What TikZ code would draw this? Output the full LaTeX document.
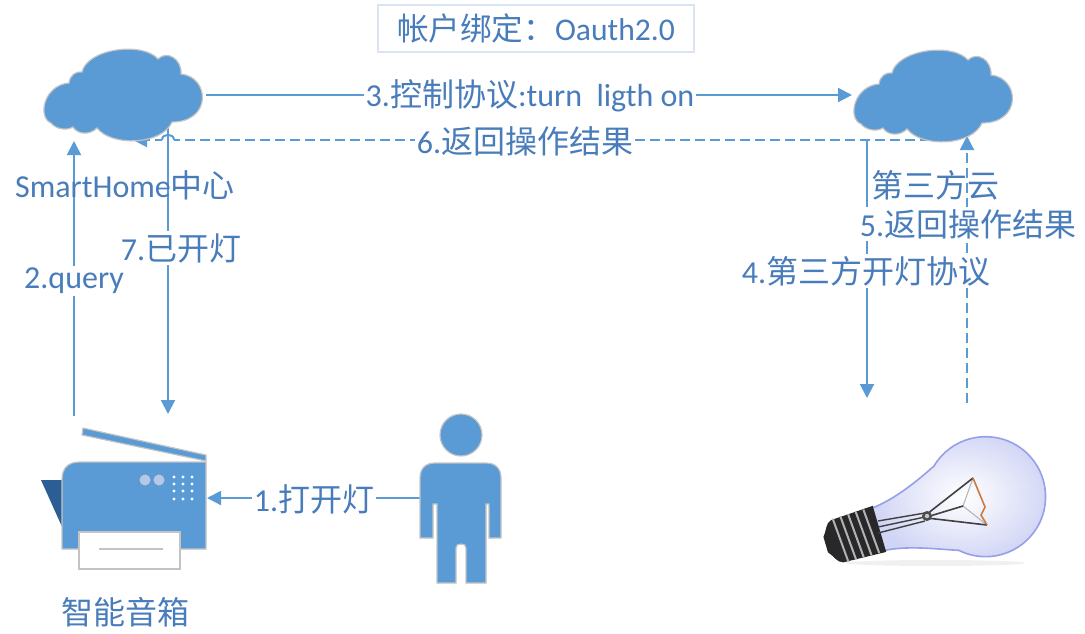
\documentclass[tikz,border=0pt]{standalone}
\usepackage{fontspec}
\setmainfont{Carlito}
\newfontfamily\cjkfont{Noto Sans CJK SC}
\newcommand\zh[1]{{\cjkfont #1}}
\usetikzlibrary{arrows.meta}

\definecolor{iconblue}{RGB}{91,155,213}
\definecolor{txtblue}{RGB}{72,124,186}
\definecolor{darkblue}{RGB}{44,94,150}
\definecolor{btnblue}{RGB}{182,200,230}
\definecolor{boxline}{RGB}{218,228,242}
\definecolor{rim}{RGB}{196,196,196}
\definecolor{glassedge}{RGB}{150,160,232}
\definecolor{basecol}{RGB}{40,40,42}
\definecolor{wirecol}{RGB}{205,120,60}

\tikzset{
  link/.style={draw=iconblue, line width=1pt, -{Triangle[length=7pt,width=7pt]}},
  dlink/.style={link, dash pattern=on 5pt off 2.5pt},
  lbl/.style={text=txtblue, font=\fontsize{16}{19}\selectfont, inner sep=1pt},
  lblw/.style={lbl, fill=white},
  iconfill/.style={fill=iconblue, draw=rim, line width=0.6pt},
  cloudpic/.pic={
    \path[iconfill] (9,76) .. controls (-5,70) and (2,38) .. (27,36)
      .. controls (28,28) and (34,24) .. (40,25)
      .. controls (45,2) and (100,-6) .. (116,12)
      .. controls (125,3) and (140,12) .. (139,27)
      .. controls (168,30) and (170,75) .. (130,75)
      .. controls (120,98) and (70,100) .. (55,81)
      .. controls (48,88) and (36,88) .. (31,80)
      .. controls (24,84) and (14,82) .. (9,76) -- cycle;
  }
}

\begin{document}
\begin{tikzpicture}[x=0.5pt,y=-0.5pt]
\useasboundingbox (0,0) rectangle (1085,633);

% connector end points
\coordinate (hubE) at (206,95);
\coordinate (thirdW) at (852,95);
\coordinate (retStart) at (930,140);
\coordinate (retEnd) at (133,140);
\coordinate (queryStart) at (74,416);
\coordinate (queryEnd) at (74,141);
\coordinate (doneStart) at (168,118);
\coordinate (doneEnd) at (168,414);
\coordinate (cmdStart) at (867,140);
\coordinate (cmdEnd) at (867,398);
\coordinate (resStart) at (967,403);
\coordinate (resEnd) at (967,136);
\coordinate (userW) at (420,498);
\coordinate (speakerE) at (207,498);

% connectors
\draw[link] (hubE) -- (thirdW);
\draw[dlink] (retStart) -- (retEnd);
% line hop where the dashed return crosses the vertical line
\fill[white] (162,137) rectangle (174,143);
\draw[iconblue, line width=1pt] (162,140) .. controls (162,133) and (174,133) .. (174,140);
\draw[link] (queryStart) -- (queryEnd);
\draw[link] (doneStart) -- (doneEnd);
\draw[link] (cmdStart) -- (cmdEnd);
\draw[dlink] (resStart) -- (resEnd);
\draw[link] (userW) -- (speakerE);

% clouds
\pic (hubcloud) at (42,47) {cloudpic};
\pic (thirdcloud) at (852,48) {cloudpic};

% smart speaker
\fill[darkblue] (41,480) -- (63,480) -- (63,529) -- cycle;
\path[iconfill] (83,428) -- (206,455) -- (206,461) -- (82,435) -- cycle;
\path[iconfill] (62,549) -- (62,480) .. controls (62,468) and (68,462) .. (80,462) -- (206,462) -- (206,549) -- cycle;
\fill[btnblue] (145,480) circle (5.5) (159,480) circle (5.5);
\foreach \dx in {174,183,192} {
  \foreach \dy in {477,484,491,499} {
    \fill[white] (\dx,\dy) circle (1.7);
  }
}
\draw[rim, fill=white, line width=0.8pt] (79,532) rectangle (180,569);
\draw[rim, line width=0.8pt] (99,549) -- (163,549);

% person
\fill[iconblue, draw=rim, line width=0.6pt] (461,435) circle (21);
\path[iconfill] (420,538) -- (420,478) .. controls (420,468) and (426,463) .. (435,463)
  -- (486,463) .. controls (495,463) and (501,468) .. (501,478) -- (501,538)
  -- (489,538) -- (489,504) -- (486,504) -- (486,583) -- (466,583) -- (466,548)
  .. controls (466,545) and (464,544) .. (461,544) .. controls (458,544) and (456,545) .. (456,548)
  -- (456,583) -- (437,583) -- (437,504) -- (433,504) -- (433,538) -- cycle;

% light bulb
\fill[gray!12] (935,563) ellipse [x radius=90, y radius=3];
\begin{scope}[shift={(985,498)}, rotate=196.3]
  \shadedraw[inner color=white, outer color=glassedge!45, draw=glassedge, line width=0.8pt]
    (112,22) .. controls (85,24) and (55,38) .. (40,45)
    arc[start angle=47, end angle=313, radius=60]
    .. controls (55,-38) and (85,-24) .. (112,-22) -- cycle;
  \fill[basecol] (110,-24) -- (154,-22) .. controls (160,-21) and (162,-12) .. (166,-8)
    -- (166,8) .. controls (162,12) and (160,21) .. (154,22) -- (110,24) -- cycle;
  \foreach \s in {117,125,133,141,149} {
    \draw[gray!60, line width=1pt] (\s,-23) -- (\s+3,23);
  }
\end{scope}
\draw[black!75, line width=0.7pt] (878,521) -- (925,513) (878,527) -- (925,517) (878,533) -- (925,521);
\draw[gray!60, line width=0.5pt] (963,506) -- (973,478) (963,506) -- (987,525);
\draw[black!75, line width=0.8pt] (927,514) -- (973,478) (927,518) -- (987,525) (930,516) -- (963,506);
\fill[black!70] (927,516) circle (5);
\fill[gray!45] (927,516) circle (2.2);
\draw[wirecol, line width=0.8pt] (973,478) -- (985,507) -- (981,515) -- (987,525);

% labels
\node[draw=boxline, line width=1pt, text=txtblue, font=\fontsize{15.8}{18}\selectfont,
      minimum width=158pt, minimum height=23.5pt, inner sep=0pt] (title) at (536,28.5)
      {\zh{帐户绑定：}Oauth2.0};
\node[lblw] (cmdlbl) at (530,96) {3.\zh{控制协议}:turn\ \ ligth on};
\node[lblw] (retlbl) at (525,141) {6.\zh{返回操作结果}};
\node[lbl] (hublbl) at (125,185) {SmartHome\zh{中心}};
\node[lblw] (donelbl) at (181,248) {7.\zh{已开灯}};
\node[lblw] (querylbl) at (74,281) {2.query};
\node[lbl] (thirdlbl) at (935,185) {\zh{第三方云}};
\node[lblw] (reslbl) at (968,224) {5.\zh{返回操作结果}};
\node[lblw] (cmd4lbl) at (866,271) {4.\zh{第三方开灯协议}};
\node[lblw] (userlbl) at (314,499) {1.\zh{打开灯}};
\node[lbl] (speakerlbl) at (125,612) {\zh{智能音箱}};
\end{tikzpicture}
\end{document}
